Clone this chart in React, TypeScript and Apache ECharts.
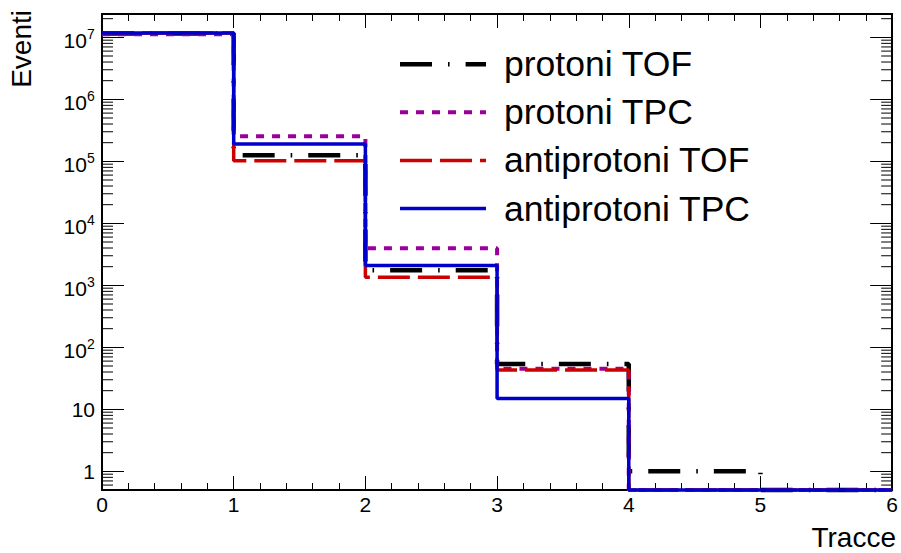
import { useEffect, useRef } from 'react';
import * as echarts from 'echarts';

// Histogram bin edges (number of tracks) and per-bin event counts
const binEdges = [0, 1, 2, 3, 4, 5, 6];
const seriesNames = ['protoni TOF', 'protoni TPC', 'antiprotoni TOF', 'antiprotoni TPC'];
const protoniTOF = [1.15e7, 1.25e5, 1.75e3, 54, 1, 0];
const protoniTPC = [1.12e7, 2.54e5, 3.95e3, 45, 0, 0];
const antiprotoniTOF = [1.17e7, 1.02e5, 1.35e3, 43, 0, 0];
const antiprotoniTPC = [1.18e7, 1.91e5, 2.08e3, 15, 0, 0];
const histograms = [protoniTOF, protoniTPC, antiprotoniTOF, antiprotoniTPC];

// Axis ranges and titles
const xMin = 0;
const xMax = 6;
const yMin = 0.5;
const yMax = 2.38e7;
const xTitle = 'Tracce';
const yTitle = 'Eventi';

// Line attributes for each histogram
const lineColors = ['#000000', '#990099', '#cc0000', '#0000cc'];
const lineWidths = [4.5, 4, 3.5, 3.5];
const lineDashes: (number[] | 'solid')[] = [[32, 16, 1.6, 16], [8, 8], [32, 8], 'solid'];

const FONT = '"Liberation Sans", Arial, Helvetica, sans-serif';

// Minor ticks of the log axis: 2..9 x 10^n inside the visible range
const minorTicks: number[] = [];
for (let d = -1; d <= 7; d++) {
  for (let m = 2; m <= 9; m++) {
    const v = m * Math.pow(10, d);
    if (v > yMin && v < yMax) minorTicks.push(v);
  }
}

function logLabel(v: number): string {
  const e = Math.log10(v);
  const n = Math.round(e);
  if (Math.abs(e - n) > 1e-6) return '';
  if (n === 0) return '1';
  if (n === 1) return '10';
  return `{b|10}{s|${n}}{z| }`;
}

export default function App() {
  const ref = useRef<HTMLDivElement>(null);

  useEffect(() => {
    if (!ref.current) return;
    const chart = echarts.init(ref.current, undefined, { renderer: 'svg' });

    const axisLine = { show: true, onZero: false, lineStyle: { color: '#000', width: 2 } };
    const tickStyle = { color: '#000', width: 1 };

    const xAxisBase = {
      type: 'value',
      min: xMin,
      max: xMax,
      interval: 1,
      axisLine,
      axisTick: { show: true, inside: true, length: 14, lineStyle: tickStyle },
      minorTick: { show: true, splitNumber: 5, length: 7, lineStyle: tickStyle },
      splitLine: { show: false },
      minorSplitLine: { show: false },
    };

    const yAxisBase = {
      type: 'log',
      logBase: 10,
      min: yMin,
      max: yMax,
      axisLine,
      axisTick: { show: true, inside: true, length: 22, lineStyle: tickStyle },
      splitLine: { show: false },
    };

    const histSeries = histograms.map((counts, i) => ({
      type: 'line',
      name: seriesNames[i],
      step: 'end',
      symbol: 'none',
      showSymbol: false,
      clip: false,
      silent: true,
      z: 3 + i,
      // empty bins sit on the lower frame edge of the log axis
      data: binEdges.map((x, j) => [x, Math.max(counts[Math.min(j, counts.length - 1)], yMin)]),
      lineStyle: {
        color: lineColors[i],
        width: lineWidths[i],
        type: lineDashes[i],
        cap: 'butt',
      },
    }));

    const minorTickSeries = {
      type: 'custom',
      silent: true,
      clip: false,
      z: 1,
      data: minorTicks.map((v) => [xMin, v]),
      renderItem: (_params: any, api: any) => {
        const v = api.value(1);
        const l = api.coord([xMin, v]);
        const r = api.coord([xMax, v]);
        return {
          type: 'group',
          children: [
            { type: 'line', shape: { x1: l[0], y1: l[1], x2: l[0] + 11, y2: l[1] }, style: { stroke: '#000', lineWidth: 1 } },
            { type: 'line', shape: { x1: r[0] - 11, y1: r[1], x2: r[0], y2: r[1] }, style: { stroke: '#000', lineWidth: 1 } },
          ],
        };
      },
    };

    // Legend drawn as line samples with labels
    const legendX0 = 400;
    const legendX1 = 486;
    const legendY0 = 64.2;
    const legendStep = 48.1;
    const legendItems: any[] = [];
    seriesNames.forEach((name, i) => {
      const y = legendY0 + i * legendStep;
      legendItems.push({
        type: 'line',
        shape: { x1: legendX0, y1: y, x2: legendX1, y2: y },
        style: {
          stroke: lineColors[i],
          lineWidth: lineWidths[i],
          lineDash: lineDashes[i] === 'solid' ? null : lineDashes[i],
          lineCap: 'butt',
        },
      });
      legendItems.push({
        type: 'text',
        x: 504,
        y,
        style: { text: name, fontSize: 35.5, fontFamily: FONT, fill: '#000', align: 'left', verticalAlign: 'middle' },
      });
    });

    chart.setOption({
      animation: false,
      backgroundColor: '#ffffff',
      grid: { left: 102, right: 4, top: 14, bottom: 63, containLabel: false },
      xAxis: [
        {
          ...xAxisBase,
          position: 'bottom',
          axisLabel: { show: true, color: '#000', fontSize: 21, fontFamily: FONT, margin: 4 },
        },
        {
          ...xAxisBase,
          position: 'top',
          axisLabel: { show: false },
        },
      ],
      yAxis: [
        {
          ...yAxisBase,
          position: 'left',
          axisLabel: {
            show: true,
            color: '#000',
            fontSize: 21,
            fontFamily: FONT,
            margin: 7,
            showMinLabel: false,
            showMaxLabel: false,
            formatter: logLabel,
            rich: {
              b: { fontSize: 21, fontFamily: FONT, color: '#000', verticalAlign: 'bottom', lineHeight: 21 },
              s: { fontSize: 14, fontFamily: FONT, color: '#000', verticalAlign: 'top', lineHeight: 14, padding: [3, 0, 0, 0] },
              z: { fontSize: 1, lineHeight: 27 },
            },
          },
        },
        {
          ...yAxisBase,
          position: 'right',
          axisLabel: { show: false },
        },
      ],
      series: [minorTickSeries, ...histSeries],
      graphic: [
        {
          type: 'text',
          x: 896,
          y: 537.5,
          style: { text: xTitle, fontSize: 28, fontFamily: FONT, fill: '#000', align: 'right', verticalAlign: 'middle' },
        },
        {
          type: 'text',
          x: 21.7,
          y: 10,
          rotation: Math.PI / 2,
          style: { text: yTitle, fontSize: 28, fontFamily: FONT, fill: '#000', align: 'right', verticalAlign: 'middle' },
        },
        ...legendItems,
      ],
    });

    return () => chart.dispose();
  }, []);

  return (
    <div
      ref={ref}
      style={{ position: 'fixed', left: 0, top: 0, width: 901, height: 553, background: '#fff' }}
    />
  );
}
